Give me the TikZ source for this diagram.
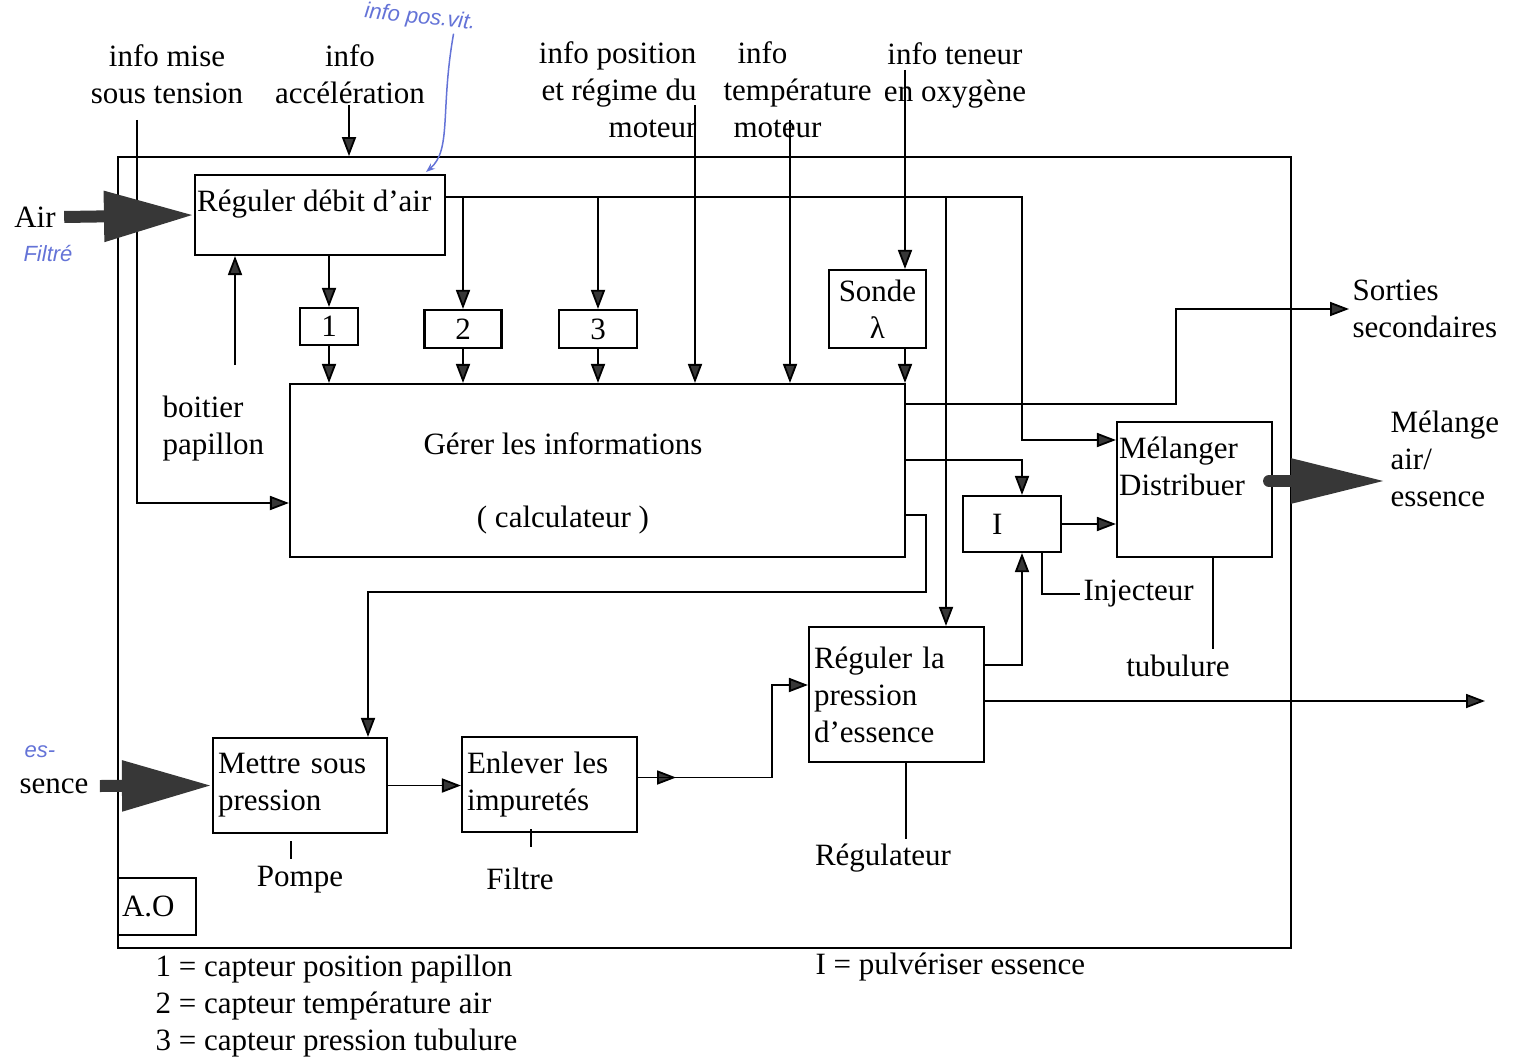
\documentclass[tikz,border=0pt]{standalone}
\usepackage{fontspec}
\setmainfont{Liberation Serif}
\setsansfont{Liberation Sans}
\usetikzlibrary{calc, arrows.meta}
\definecolor{tipgray}{RGB}{55,55,55}
\definecolor{inkblue}{RGB}{100,115,215}
\tikzset{
	blk/.style={draw, rectangle, line width=2.1pt, inner sep=3pt},
	% text in the upper left corner of a box
	toptext/.style={anchor=north west, align=left, inner xsep=3pt, inner ysep=16pt},
	bigarrow/.style={line width=12pt, tipgray, -{Triangle[length=90pt, width=48pt]}},
	note/.style={inkblue, font=\sffamily\itshape\fontsize{22}{24}\selectfont},
}

\begin{document}
\begin{tikzpicture}[x=1pt, y=-1pt, font=\fontsize{31}{37}\selectfont]
\useasboundingbox (0,0) rectangle (1520,1059);

\node (frame) [blk, line width=1.7pt, minimum width=1173pt, minimum height=791pt] at (704.5,552.5) {};
\node (ao) [blk, minimum width=78pt, minimum height=57pt, text width=70pt, align=left] at (157,906.5) {A.O};

\node (regair) [blk, minimum width=250pt, minimum height=80pt, label={[toptext]north west:Réguler débit d'air}] at (320,215) {};
\node (c1) [blk, minimum width=58pt, minimum height=37pt] at (329,326.5) {1};
\node (c2) [blk, minimum width=77pt, minimum height=38pt] at (463,329) {2};
\node (c3) [blk, minimum width=78pt, minimum height=38pt] at (598,329) {3};
\node (sonde) [blk, minimum width=97pt, minimum height=78pt, align=center] at (877.5,309) {Sonde\\λ};

\node (gerer) [blk, minimum width=615pt, minimum height=173pt] at (597.5,470.5) {};
\node (gerertxt) [align=center] at (563,483) {Gérer les informations\\[36pt]( calculateur )};

\node (inj) [blk, minimum width=98pt, minimum height=56pt, text width=40pt, align=left] at (1012,524) {I};
\node (melange) [blk, minimum width=155pt, minimum height=135pt, label={[toptext]north west:{Mélanger\\Distribuer}}] at (1194.5,489.5) {};
\node (regp) [blk, minimum width=175pt, minimum height=135pt, text width=165pt, align=left] at (896.5,694.5) {Réguler la\\pression\\d'essence};
\node (mettre) [blk, minimum width=174pt, minimum height=95pt, text width=164pt, align=left] at (300,785.5) {Mettre sous\\pression};
\node (enlever) [blk, minimum width=175pt, minimum height=95pt, text width=165pt, align=left] at (549.5,784.5) {Enlever les\\impuretés};

% inputs, outputs and labels
\node (tension) [align=center] at (167,74) {info mise\\sous tension};
\node (accel) [align=center] at (350,74) {info\\accélération};
\node (posmot) [align=right, anchor=east] at (700,90) {info position\\et régime du\\moteur};
\node (temp) [align=left, anchor=west] at (720,90) {\hspace*{14pt}info\\température\\\hspace*{10pt}moteur};
\node (teneur) [align=center] at (955,75) {info teneur\\en oxygène};
\node (boitier) [align=left, anchor=west] at (159,429) {boitier\\papillon};
\node (sorties) [align=left, anchor=west] at (1349,309) {Sorties\\secondaires};
\node (melout) [align=left, anchor=west] at (1387,459) {Mélange\\air/\\essence};
\node (air) at (35,217) {Air};
\node (sence) at (54,786) {sence};
\node (pompe) at (300,880) {Pompe};
\node (filtre) at (520,879) {Filtre};
\node (regul) at (883,858) {Régulateur};
\node (tubul) at (1178,666) {tubulure};
\node (injtxt) [anchor=west] at (1080,594) {Injecteur};
\node (legend) [align=left, anchor=west] at (152,1006) {1 = capteur position papillon\\2 = capteur température air\\3 = capteur pression tubulure};
\node (legendi) [anchor=west] at (812,967) {I = pulvériser essence};

% pencil notes
\node (handvit) [note, rotate=-6] at (420,18) {info pos.vit.};
\node (handfil) [note] at (48,254) {Filtré};
\node (handes) [note] at (40,752) {es-};
\draw[inkblue, line width=1.5pt, -{Stealth[length=9pt]}] ($(handvit.south)+(35,2)$) .. controls (440,110) and (452,150) .. ($(regair.north east)+(-20,-2)$);

\coordinate (tens) at (137,120);
\coordinate (accs) at (349,105);
\coordinate (boit) at (235,365);
\coordinate (poss) at (695,105);
\coordinate (tmps) at (790,120);
\coordinate (oxy) at (905,70);
\coordinate (bus) at (445,197);
\coordinate (busend) at (1022,197);
\coordinate (regpin) at (946,197);
\coordinate (fuelout) at (1485,701);

\begin{scope}[line width=1.8pt, black, ->, >={Triangle[length=19pt, width=14pt, fill=tipgray]}]
	\draw (tens) |- ($(gerer.west)+(0,32.5)$);
	\draw (accs) -- (accs |- frame.north);
	\draw (boit) -- (boit |- regair.south);
	\draw (regair.south -| c1) -- (c1.north);
	\draw (c1.south) -- (c1.south |- gerer.north);
	\draw (bus -| c2) -- (c2.north);
	\draw (c2.south) -- (c2.south |- gerer.north);
	\draw (bus -| c3) -- (c3.north);
	\draw (c3.south) -- (c3.south |- gerer.north);
	\draw (bus) -- (busend) |- ($(melange.west)+(0,-49.5)$);
	\draw (regpin) -- (regpin |- regp.north);
	\draw (poss) -- (poss |- gerer.north);
	\draw (tmps) -- (tmps |- gerer.north);
	\draw (oxy) -- (oxy |- sonde.north);
	\draw (oxy |- sonde.south) -- (oxy |- gerer.north);
	\draw ($(gerer.east)+(0,-66.5)$) -- ++(270,0) |- (sorties.west);
	\draw ($(gerer.east)+(0,-10.5)$) -| (busend |- inj.north);
	\draw ($(gerer.east)+(0,44.5)$) -- ++(20,0) -- ++(0,77) -| ($(mettre.north)+(68,0)$);
	\draw (inj.east) -- (inj.east -| melange.west);
	\draw ($(regp.east)+(0,-29.5)$) -| (busend |- inj.south);
	\draw ($(regp.east)+(0,6.5)$) -- (fuelout);
	\draw (mettre.east) -- (mettre.east -| enlever.west);
	\draw ($(enlever.east)+(0,-7)$) -- ++(38,0);
	\draw ($(enlever.east)+(0,-7)$) -- ++(134,0) |- ($(regp.west)+(0,-9.5)$);
\end{scope}

\begin{scope}[line width=1.8pt, black]
	\draw ($(inj.south)+(30,0)$) |- (injtxt.west);
	\draw ($(melange.south)+(18.5,0)$) -- ++(0,91);
	\draw ($(regp.south)+(9.5,0)$) -- ++(0,76);
	\draw ($(mettre.south)+(-9,7)$) -- ++(0,18);
	\draw ($(enlever.south)+(-18.5,-4)$) -- ++(0,18);
\end{scope}

\draw[bigarrow] ([xshift=5pt]air.east) -- (regair.west);
\draw[bigarrow] ([xshift=8pt]sence.east) -- (mettre.west);
\draw[bigarrow, line cap=round, -{Triangle[length=95pt, width=42pt]}] ($(melange.east)+(-4,-8.5)$) -- ++(117,0);
\end{tikzpicture}
\end{document}
